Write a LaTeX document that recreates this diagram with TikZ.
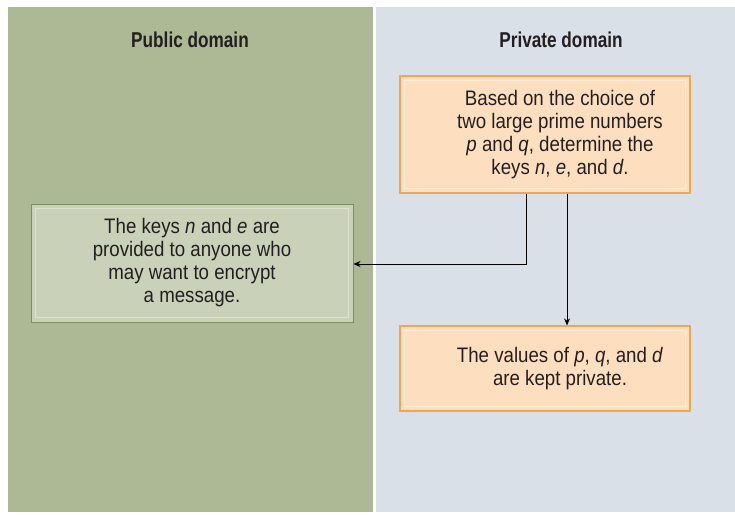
\documentclass[tikz,border=0pt]{standalone}
\usepackage{fontspec}
\setmainfont{Liberation Sans}
\newfontfamily\condfont[FakeStretch=0.89]{Liberation Sans}
\newfontfamily\headfont[FakeStretch=0.8]{Liberation Sans}
\usetikzlibrary{arrows.meta, positioning}
\definecolor{pubGreen}{HTML}{ADB994}
\definecolor{privBlue}{HTML}{D9E0E8}
\definecolor{boxGreenFill}{HTML}{C9D1B8}
\definecolor{boxGreenLine}{HTML}{7A9159}
\definecolor{boxGreenInner}{HTML}{DCE2CE}
\definecolor{boxOrangeFill}{HTML}{FDDFBF}
\definecolor{boxOrangeLine}{HTML}{F5A64C}
\definecolor{boxOrangeInner}{HTML}{FEEBD6}
\definecolor{inkDark}{HTML}{231F20}
\tikzset{
  arrowK/.style={-{Stealth[length=7pt, width=6pt]}, black, line width=0.9pt},
  title/.style={font=\headfont\bfseries\fontsize{21.5}{24}\selectfont, text=inkDark},
  boxPub/.style={rectangle, draw=boxGreenLine, fill=boxGreenFill, line width=1pt,
                 align=center, text=inkDark, inner sep=0pt,
                 font=\condfont\fontsize{21}{23}\selectfont},
  boxPriv/.style={rectangle, draw=boxOrangeLine, fill=boxOrangeFill, line width=1.2pt,
                  align=center, text=inkDark, inner sep=0pt,
                  font=\condfont\fontsize{21}{23}\selectfont},
  innerG/.style={draw=boxGreenInner, line width=1.2pt},
  innerO/.style={draw=boxOrangeInner, line width=1.2pt},
}
\begin{document}
\begin{tikzpicture}[x=1pt, y=-1pt]
  \useasboundingbox (0,0) rectangle (735,514);
  % the two domains
  \fill[pubGreen] (8,7) rectangle (373,512);
  \fill[privBlue] (376,7) rectangle (735,512);
  \node[title] (tpub) at (190,40) {Public domain};
  \node[title] (tpriv) at (561,40) {Private domain};

  % boxes
  \node[boxPriv, minimum width=290pt, minimum height=117pt] (keys) at (545,134.5) {};
  \node[boxPub, minimum width=322pt, minimum height=118pt] (pub) at (192,263) {};
  \node[boxPriv, minimum width=290pt, minimum height=85pt] (priv) at (545,368.5) {};

  % inner lines
  \draw[innerO] ([shift={(5pt,-5pt)}]keys.north west) rectangle ([shift={(-5pt,5pt)}]keys.south east);
  \draw[innerG] ([shift={(5pt,-5pt)}]pub.north west) rectangle ([shift={(-5pt,5pt)}]pub.south east);
  \draw[innerO] ([shift={(5pt,-5pt)}]priv.north west) rectangle ([shift={(-5pt,5pt)}]priv.south east);

  % texts
  \node[boxPriv, draw=none, fill=none, xshift=15pt] (keystext) at (keys)
    {Based on the choice of\\two large prime numbers\\\textit{p} and \textit{q}, determine the\\keys \textit{n}, \textit{e}, and \textit{d}.};
  \node[boxPub, draw=none, fill=none] (pubtext) at (pub)
    {The keys \textit{n} and \textit{e} are\\provided to anyone who\\may want to encrypt\\a message.};
  \node[boxPriv, draw=none, fill=none, xshift=15pt] (privtext) at (priv)
    {The values of \textit{p}, \textit{q}, and \textit{d}\\are kept private.};

  % connectors
  \draw[arrowK] ([xshift=-19pt]keys.south) |- ([yshift=-1pt]pub.east);
  \draw[arrowK] ([xshift=22pt]keys.south) -- ([xshift=22pt]priv.north);
\end{tikzpicture}
\end{document}
